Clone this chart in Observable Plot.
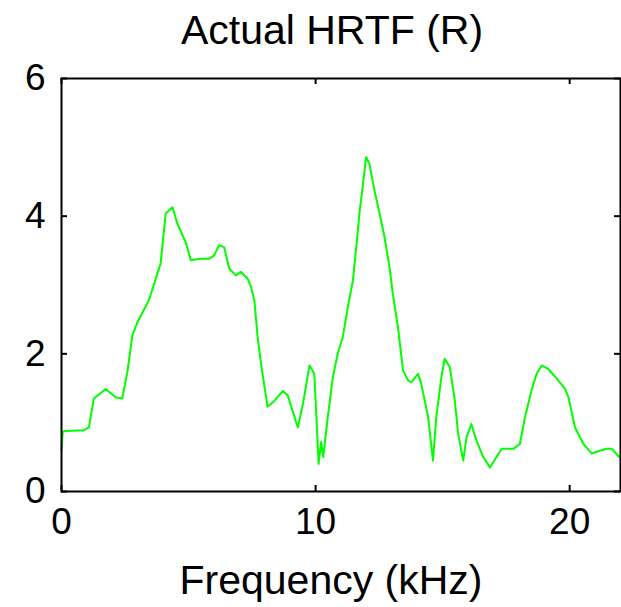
<!DOCTYPE html>
<html>
<head>
<meta charset="utf-8">
<script src="https://cdn.jsdelivr.net/npm/d3@7"></script>
<script src="https://cdn.jsdelivr.net/npm/@observablehq/plot@0.6"></script>
<style>
  html, body { margin: 0; padding: 0; background: #fff; }
  #chart svg { display: block; }
</style>
</head>
<body>
<div id="chart"></div>
<script>
const title = "Actual HRTF (R)";
const xLabel = "Frequency (kHz)";
const xTicks = [0, 10, 20];
const yTicks = [0, 2, 4, 6];

const freq = [0.0, 0.05, 0.16, 0.88, 1.08, 1.27, 1.74, 2.13, 2.39, 2.59, 2.79, 2.99, 3.44, 3.9, 4.1, 4.37, 4.56, 4.89, 5.09, 5.48, 5.81, 6.01, 6.2, 6.4, 6.6, 6.86, 7.06, 7.33, 7.46, 7.59, 7.72, 7.85, 8.11, 8.38, 8.71, 8.9, 9.3, 9.5, 9.76, 9.95, 10.12, 10.22, 10.3, 10.48, 10.68, 10.88, 11.07, 11.27, 11.47, 11.6, 11.73, 11.86, 11.99, 12.12, 12.32, 12.52, 12.71, 12.91, 13.04, 13.24, 13.44, 13.64, 13.77, 14.03, 14.16, 14.43, 14.62, 14.75, 14.95, 15.08, 15.28, 15.48, 15.61, 15.81, 15.94, 16.13, 16.33, 16.6, 16.86, 17.32, 17.78, 18.04, 18.24, 18.5, 18.7, 18.9, 19.16, 19.49, 19.82, 19.95, 20.21, 20.54, 20.87, 21.0, 21.46, 21.66, 22.0];
const mag = [0.6, 0.87, 0.88, 0.89, 0.93, 1.35, 1.49, 1.37, 1.35, 1.73, 2.27, 2.46, 2.78, 3.31, 4.04, 4.13, 3.89, 3.62, 3.36, 3.38, 3.38, 3.43, 3.58, 3.55, 3.24, 3.14, 3.19, 3.09, 2.97, 2.78, 2.24, 1.86, 1.23, 1.32, 1.46, 1.40, 0.93, 1.27, 1.83, 1.71, 0.40, 0.72, 0.5, 1.08, 1.66, 2.02, 2.24, 2.68, 3.07, 3.55, 4.06, 4.45, 4.86, 4.76, 4.37, 4.04, 3.70, 3.26, 2.87, 2.39, 1.76, 1.61, 1.59, 1.71, 1.56, 1.08, 0.45, 1.08, 1.66, 1.93, 1.81, 1.32, 0.84, 0.45, 0.79, 0.98, 0.74, 0.50, 0.35, 0.62, 0.62, 0.69, 1.08, 1.47, 1.71, 1.83, 1.78, 1.64, 1.49, 1.37, 0.93, 0.69, 0.55, 0.57, 0.62, 0.62, 0.48];

const data = freq.map((f, i) => ({f, m: mag[i]}));
const font = "'Liberation Sans', Arial, Helvetica, sans-serif";

const W = 621, H = 607, mT = 78, mB = 116, mL = 61, mR = 1, tick = 6;
const plotW = W - mL - mR, plotH = H - mT - mB;
const fmt = d => String(d);

const chart = Plot.plot({
  width: W,
  height: H,
  marginTop: mT,
  marginBottom: mB,
  marginLeft: mL,
  marginRight: mR,
  style: {fontFamily: font, color: "black", background: "white", overflow: "visible"},
  x: {domain: [0, 22]},
  y: {domain: [0, 6]},
  marks: [
    Plot.line(data, {x: "f", y: "m", stroke: "#00ff00", strokeWidth: 2}),
    Plot.tickX(xTicks, {x: d => d, insetTop: plotH - tick, stroke: "black", strokeWidth: 2}),
    Plot.tickX(xTicks, {x: d => d, insetBottom: plotH - tick, stroke: "black", strokeWidth: 2}),
    Plot.tickY(yTicks, {y: d => d, insetRight: plotW - tick, stroke: "black", strokeWidth: 2}),
    Plot.tickY(yTicks, {y: d => d, insetLeft: plotW - tick, stroke: "black", strokeWidth: 2}),
    Plot.frame({stroke: "black", strokeWidth: 2}),
    Plot.axisX(xTicks, {anchor: "bottom", tickSize: 0, tickPadding: 16, fontSize: 37, tickFormat: fmt, label: null}),
    Plot.axisY(yTicks, {anchor: "left", tickSize: 0, tickPadding: 16, fontSize: 37, tickFormat: fmt, label: null}),
    Plot.text([title], {frameAnchor: "top", dy: -48, dx: -9, lineAnchor: "middle", fontSize: 41, fill: "black"}),
    Plot.text([xLabel], {frameAnchor: "bottom", dy: 89, dx: -10, lineAnchor: "middle", fontSize: 41, fill: "black"})
  ]
});
document.getElementById("chart").appendChild(chart);
</script>
</body>
</html>
